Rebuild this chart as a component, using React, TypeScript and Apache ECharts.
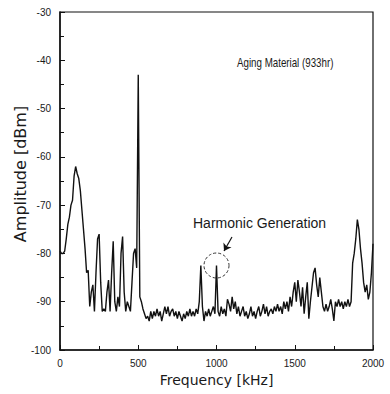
import React, { useEffect, useRef } from "react";
import * as echarts from "echarts";

// Spectrum sampled every 10 kHz from 0 to 2000 kHz (amplitude in dBm)
const FREQ_STEP_KHZ = 10;
const amplitude: number[] = [
  // 0 - 90
  -79.5, -80, -80, -79.5, -77, -74, -72.5, -70, -69, -64,
  // 100 - 190
  -62, -63.5, -64.5, -67, -71, -75, -79, -84, -83.5, -91,
  // 200 - 290
  -88, -86.5, -92, -84, -77, -76, -86, -92, -91.5, -92,
  // 300 - 390
  -88, -85.5, -92, -84, -77.5, -90, -92, -89, -91, -80,
  // 400 - 490
  -76.5, -88, -92, -90, -91, -92, -86, -80, -79, -83,
  // 500 - 590
  -43, -89, -90, -91.5, -92.5, -93.5, -93, -94, -92, -93.5,
  // 600 - 690
  -92, -93, -91.5, -93, -92, -94, -92.5, -91, -92.5, -91,
  // 700 - 790
  -93, -92, -91.5, -93, -92, -93.5, -92, -93, -94, -92.5,
  // 800 - 890
  -93.5, -92, -93, -91.5, -93, -92, -93, -91.5, -92.5, -90,
  // 900 - 990
  -82.5, -91, -94, -92, -93, -91.5, -93, -92, -91, -92.5,
  // 1000 - 1090
  -82.5, -92, -93, -91, -92.5, -91.5, -93, -89.5, -90.5, -92,
  // 1100 - 1190
  -89, -91.5, -90, -92.5, -91, -93, -92, -91, -93, -92,
  // 1200 - 1290
  -93.5, -92.5, -91, -93, -92, -93.5, -92, -91, -93, -92,
  // 1300 - 1390
  -90.5, -92.5, -91, -93, -92, -91.5, -92.5, -91, -92, -90.5,
  // 1400 - 1490
  -92, -91, -92.5, -90, -91.5, -90, -92, -89, -91, -88,
  // 1500 - 1590
  -86, -90, -85.5, -88, -91, -87, -92.5, -89, -86, -93.5,
  // 1600 - 1690
  -90, -87, -84, -83, -86.5, -89, -85, -88, -91, -92,
  // 1700 - 1790
  -90.5, -92, -91, -89.5, -91.5, -94, -90, -91, -89.5, -91,
  // 1800 - 1890
  -90, -91.5, -90, -91, -89.5, -91, -90, -82, -80, -77,
  // 1900 - 1990
  -73, -75, -79, -82, -86, -88, -86.5, -89.5, -88, -84,
  // 2000
  -78,
];

const xTicks = [0, 500, 1000, 1500, 2000];
const yMin = -100;
const yMax = -30;

const circledPeak: [number, number] = [1000, -82.5];
const arrowFrom: [number, number] = [1099, -76.6];
const arrowTo: [number, number] = [1048, -79.5];

const TXT = "#1a1a1a";
const FONT = "Liberation Sans, Arial, sans-serif";

export default function App() {
  const ref = useRef<HTMLDivElement>(null);

  useEffect(() => {
    if (!ref.current) return;
    const chart = echarts.init(ref.current, undefined, { renderer: "svg" });
    const points = amplitude.map((v, i) => [i * FREQ_STEP_KHZ, v]);

    chart.setOption({
      animation: false,
      backgroundColor: "#ffffff",
      grid: {
        left: 60,
        right: 17,
        top: 12,
        bottom: 44,
        show: true,
        borderColor: "#111",
        borderWidth: 1.2,
        backgroundColor: "transparent",
      },
      xAxis: {
        type: "value",
        min: xTicks[0],
        max: xTicks[xTicks.length - 1],
        interval: 500,
        name: "Frequency [kHz]",
        nameLocation: "middle",
        nameGap: 23,
        nameTextStyle: { fontFamily: "DejaVu Sans", fontSize: 14, color: TXT },
        axisLine: { show: true, lineStyle: { color: "#111", width: 1.5 } },
        axisTick: { show: true, inside: true, length: 5, lineStyle: { color: "#111" } },
        minorTick: { show: true, splitNumber: 2, length: 4, lineStyle: { color: "#111" } },
        splitLine: { show: false },
        axisLabel: {
          fontFamily: FONT,
          fontSize: 10,
          color: TXT,
          margin: 8,
          formatter: (v: number) => String(v),
        },
      },
      yAxis: {
        type: "value",
        min: yMin,
        max: yMax,
        interval: 10,
        axisLine: { show: true, lineStyle: { color: "#111", width: 1.5 } },
        axisTick: { show: true, inside: true, length: 5, lineStyle: { color: "#111" } },
        minorTick: { show: true, splitNumber: 2, length: 4, lineStyle: { color: "#111" } },
        splitLine: { show: false },
        axisLabel: {
          fontFamily: FONT,
          fontSize: 10,
          color: TXT,
          margin: 9,
          formatter: (v: number) => String(v),
        },
      },
      graphic: [
        {
          type: "text",
          x: 20,
          y: 174,
          rotation: Math.PI / 2,
          style: {
            text: "Amplitude [dBm]",
            fontFamily: "DejaVu Sans",
            fontSize: 16,
            fill: TXT,
            textAlign: "center",
            textVerticalAlign: "middle",
          },
        },
        {
          type: "text",
          x: 237,
          y: 62,
          scaleX: 0.75,
          style: {
            text: "Aging Material (933hr)",
            fontFamily: FONT,
            fontSize: 13,
            fill: TXT,
            textAlign: "left",
            textVerticalAlign: "middle",
          },
        },
        {
          type: "text",
          x: 193,
          y: 223,
          style: {
            text: "Harmonic Generation",
            fontFamily: FONT,
            fontSize: 14,
            fill: TXT,
            textAlign: "left",
            textVerticalAlign: "middle",
          },
        },
      ],
      series: [
        {
          type: "line",
          data: points,
          showSymbol: false,
          symbol: "none",
          lineStyle: { color: "#111", width: 1.4 },
          silent: true,
          markPoint: {
            silent: true,
            symbol: "circle",
            symbolSize: 25,
            label: { show: false },
            itemStyle: {
              color: "rgba(0,0,0,0)",
              borderColor: "#333",
              borderWidth: 1,
              borderType: [3, 2],
            },
            data: [{ coord: circledPeak }],
          },
          markLine: {
            silent: true,
            symbol: ["none", "arrow"],
            symbolSize: 7,
            label: { show: false },
            lineStyle: { color: "#111", width: 1.2, type: "solid" },
            data: [[{ coord: arrowFrom }, { coord: arrowTo }]],
          },
        },
      ],
    });

    return () => chart.dispose();
  }, []);

  return (
    <div
      ref={ref}
      style={{ position: "fixed", left: 0, top: 0, width: 390, height: 394 }}
    />
  );
}
